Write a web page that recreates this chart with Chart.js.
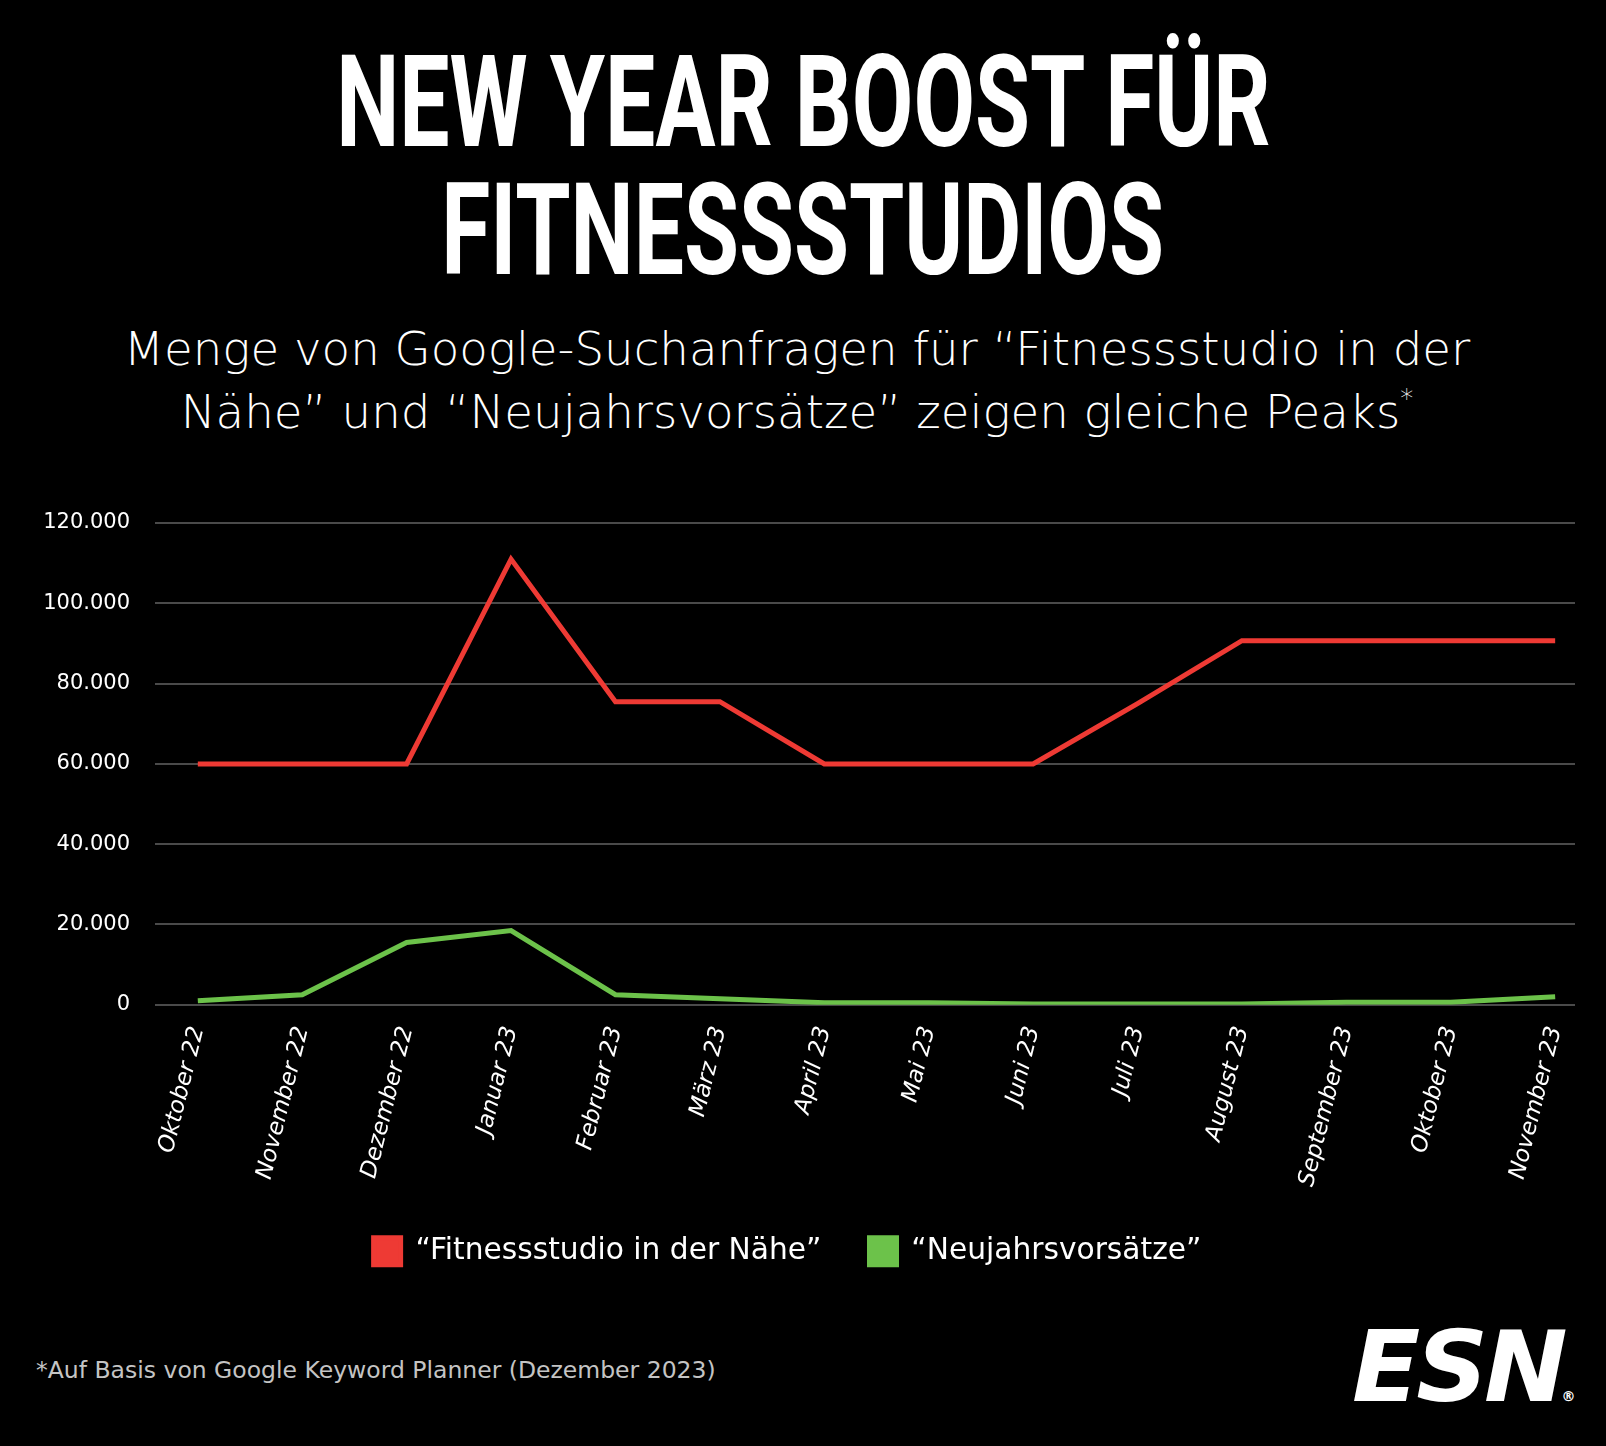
<!DOCTYPE html>
<html lang="de">
<head>
<meta charset="utf-8">
<title>New Year Boost für Fitnessstudios</title>
<script src="https://cdn.jsdelivr.net/npm/chart.js@4.4.0/dist/chart.umd.min.js"></script>
<style>
  html, body { margin: 0; padding: 0; background: #000; }
  body { width: 1606px; height: 1446px; position: relative; overflow: hidden; color: #fff; }
  .title {
    position: absolute; left: 0; width: 1606px; text-align: center;
    font-family: Roboto, "DejaVu Sans", sans-serif; font-weight: 700;
    font-size: 128px; line-height: 128px; white-space: nowrap;
  }
  .title span { display: inline-block; transform: scaleX(0.698); transform-origin: center; }
  .subtitle {
    position: absolute; left: -6px; top: 318px; width: 1606px; text-align: center;
    font-family: "DejaVu Sans", sans-serif; font-weight: 200;
    font-size: 46.7px; line-height: 63px; white-space: nowrap;
  }
  .subtitle sup { font-size: 26px; vertical-align: 20px; line-height: 0; }
  .note {
    position: absolute; left: 36px; top: 1356px;
    font-family: "DejaVu Sans", sans-serif; font-size: 23.5px; color: #c4c4c4;
  }
  .logo {
    position: absolute; left: 1352px; top: 1318px;
    font-family: "DejaVu Sans", sans-serif; font-weight: 700; font-style: italic;
    font-size: 98px; line-height: 98px; letter-spacing: -4px;
  }
  .logo span { display: inline-block; transform: scaleX(1.02); transform-origin: left; }
  .logo small { font-size: 14px; font-style: normal; letter-spacing: 0; margin-left: 2px; }
  #wrap { position: absolute; left: 0; top: 480px; width: 1606px; height: 804px; }
</style>
</head>
<body>
<div class="title" style="top:38px"><span>NEW YEAR BOOST FÜR</span></div>
<div class="title" style="top:166px"><span>FITNESSSTUDIOS</span></div>
<div class="subtitle">Menge von Google-Suchanfragen für “Fitnessstudio in der<br>Nähe” und “Neujahrsvorsätze” zeigen gleiche Peaks<sup>*</sup></div>
<div id="wrap"><canvas id="chart"></canvas></div>
<div class="note">*Auf Basis von Google Keyword Planner (Dezember 2023)</div>
<div class="logo"><span>ESN</span><small>®</small></div>
<script>
const months = ['Oktober 22', 'November 22', 'Dezember 22', 'Januar 23', 'Februar 23', 'März 23', 'April 23',
  'Mai 23', 'Juni 23', 'Juli 23', 'August 23', 'September 23', 'Oktober 23', 'November 23'];
const fitnessstudio = [60000, 60000, 60000, 111000, 75500, 75500, 60000, 60000, 60000, 75000, 90700, 90700, 90700, 90700];
const vorsaetze = [1000, 2500, 15500, 18500, 2500, 1500, 500, 500, 200, 200, 200, 600, 600, 2000];
const yTicks = [0, 20000, 40000, 60000, 80000, 100000, 120000];
const seriesNames = ['“Fitnessstudio in der Nähe”', '“Neujahrsvorsätze”'];

const fontFamily = "'DejaVu Sans', sans-serif";

function points(values) {
  return values.map((v, i) => ({ x: i, y: v }));
}

new Chart(document.getElementById('chart'), {
  type: 'line',
  data: {
    datasets: [
      { label: seriesNames[0], data: points(fitnessstudio), borderColor: '#ee3a34', backgroundColor: '#ee3a34' },
      { label: seriesNames[1], data: points(vorsaetze), borderColor: '#6cc24a', backgroundColor: '#6cc24a' }
    ]
  },
  options: {
    responsive: true,
    maintainAspectRatio: false,
    animation: false,
    layout: { padding: { top: 43, right: 31, left: 0, bottom: 8 } },
    elements: {
      line: { borderWidth: 5, tension: 0, borderJoinStyle: 'miter', borderCapStyle: 'butt' },
      point: { radius: 0, hoverRadius: 0 }
    },
    scales: {
      x: {
        type: 'linear',
        min: -0.41,
        max: 13.19,
        afterBuildTicks: (axis) => { axis.ticks = months.map((m, i) => ({ value: i })); },
        // the estimated label height is a bit generous
        afterFit: (axis) => { axis.height -= 20; },
        grid: { display: false, drawTicks: false },
        border: { display: false },
        ticks: {
          color: '#fff',
          font: { family: fontFamily, size: 23, style: 'italic', weight: 200 },
          minRotation: 76,
          maxRotation: 76,
          padding: 19,
          autoSkip: false,
          callback: (v) => months[v]
        }
      },
      y: {
        min: 0,
        max: 120000,
        afterBuildTicks: (axis) => { axis.ticks = yTicks.map(v => ({ value: v })); },
        afterFit: (axis) => { axis.width = 155; },
        grid: { color: '#4a4a4a', lineWidth: 2, drawTicks: false },
        border: { display: false },
        ticks: {
          color: '#fff',
          padding: 25,
          font: { family: fontFamily, size: 21 },
          callback: (v) => v === 0 ? '0' : v.toLocaleString('de-DE')
        }
      }
    },
    plugins: {
      legend: {
        position: 'bottom',
        labels: {
          color: '#fff',
          boxWidth: 27,
          boxHeight: 27,
          padding: 48,
          font: { family: fontFamily, size: 29.7 }
        }
      },
      tooltip: { enabled: false }
    }
  }
});
</script>
</body>
</html>
